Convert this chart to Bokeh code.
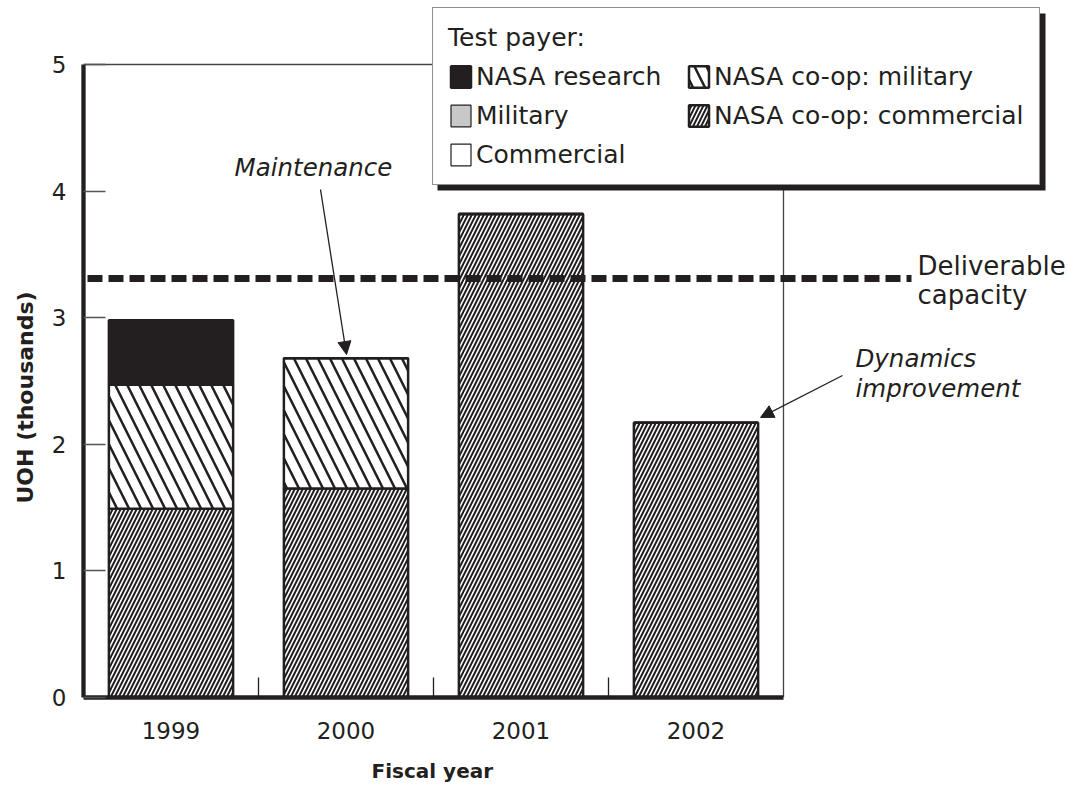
from bokeh.plotting import figure
from bokeh.models import (Range1d, FixedTicker, Legend, LegendItem, Label, Arrow,
                          NormalHead, BoxAnnotation, ColumnDataSource, Title)
from bokeh.embed import file_html
from bokeh.resources import INLINE

# ---------------- data ----------------
years = ["1999", "2000", "2001", "2002"]
coop_commercial = [1.49, 1.65, 3.82, 2.17]
coop_military = [0.98, 1.03, 0.0, 0.0]
nasa_research = [0.51, 0.0, 0.0, 0.0]
military = [0.0, 0.0, 0.0, 0.0]
commercial = [0.0, 0.0, 0.0, 0.0]
capacity = 3.31
y_ticks = [0, 1, 2, 3, 4, 5]

INK = "#231f20"
FONT = "DejaVu Sans"

# ---------------- layout helpers (canvas px -> data) ----------------
W, H = 1068, 785
LEFT_PX, BOTTOM_PX = 83, 697          # canvas position of x=-0.5 / y=0
PX_X, PX_Y = 175.0, 126.6             # pixels per unit
def dx(px):
    return -0.5 + (px - LEFT_PX) / PX_X
def dy(py):
    return (BOTTOM_PX - py) / PX_Y

p = figure(width=W, height=H, output_backend="svg", toolbar_location=None,
           x_range=Range1d(-0.5, dx(W)), y_range=Range1d(0, dy(0)),
           min_border_left=LEFT_PX, min_border_right=0, min_border_top=0,
           min_border_bottom=H - BOTTOM_PX)
p.outline_line_color = None
p.grid.visible = False
p.background_fill_color = "white"
p.border_fill_color = "white"

src = ColumnDataSource(dict(x=list(range(len(years))), cc=coop_commercial,
                            cm=coop_military, nr=nasa_research,
                            mi=military, co=commercial))
stack = ["cc", "cm", "nr", "mi", "co"]
rs = p.vbar_stack(stack, x="x", width=0.71, source=src,
                  fill_color=["white", "white", INK, "#c8c8c8", "white"],
                  hatch_pattern=["/", "\\", " ", " ", " "],
                  hatch_color=INK, hatch_weight=[2.0, 2.5, 1, 1, 1],
                  hatch_scale=[8, 24, 12, 12, 12],
                  line_color=INK, line_width=[2.5, 2.5, 2.5, 1.2, 1.2])

# frame lines (top and right)
n = len(years)
p.segment(x0=[-0.5, n - 0.5], x1=[n - 0.5, n - 0.5], y0=[y_ticks[-1], 0],
          y1=[y_ticks[-1], y_ticks[-1]], line_color="#444444", line_width=1.3)

# deliverable capacity
p.line(x=[dx(87), dx(911)], y=[capacity, capacity], line_color=INK,
       line_width=7, line_dash="15 6")

# ---------------- axes ----------------
xa = p.xaxis[0]
xa.ticker = FixedTicker(ticks=list(range(n)), minor_ticks=[i + 0.5 for i in range(n - 1)])
xa.major_label_overrides = {i: y for i, y in enumerate(years)}
xa.bounds = (-0.55, n - 0.5)
xa.axis_line_width = 4.3
xa.axis_line_color = INK
xa.major_tick_in = 0
xa.major_tick_out = 0
xa.minor_tick_in = 20
xa.minor_tick_out = 0
xa.minor_tick_line_color = INK
xa.minor_tick_line_width = 1.3
xa.major_label_text_font = FONT
xa.major_label_text_font_size = "23px"
xa.major_label_text_color = INK
xa.major_label_standoff = 24

ya = p.yaxis[0]
ya.ticker = FixedTicker(ticks=y_ticks)
ya.bounds = (0, y_ticks[-1])
ya.axis_line_width = 4.3
ya.axis_line_color = INK
ya.major_tick_in = 22
ya.major_tick_out = 0
ya.major_tick_line_color = "#555555"
ya.major_tick_line_width = 1.3
ya.minor_tick_line_color = None
ya.major_label_text_font = FONT
ya.major_label_text_font_size = "23px"
ya.major_label_text_color = INK
ya.major_label_standoff = 17

# axis titles, placed along the plotted bounds (not the wider frame)
p.add_layout(Title(text=" ", standoff=0, text_font=FONT, text_font_size="12px"),
             "below")   # spacer between tick labels and the axis title
p.add_layout(Title(text="Fiscal year", align="left", offset=371 - LEFT_PX,
                   vertical_align="middle", standoff=0, text_font=FONT,
                   text_font_size="20px", text_font_style="bold", text_color=INK),
             "below")
p.add_layout(Title(text="UOH (thousands)", align="left", offset=BOTTOM_PX - 503,
                   vertical_align="middle", standoff=20, text_font=FONT,
                   text_font_size="22px", text_font_style="bold", text_color=INK),
             "left")

# ---------------- legend ----------------
shadow = BoxAnnotation(left=dx(437), right=dx(1045), top=dy(13), bottom=dy(190),
                       fill_color=INK, fill_alpha=1.0, line_color=None)
p.add_layout(shadow)
items = [LegendItem(label="NASA research", renderers=[rs[2]]),
         LegendItem(label="Military", renderers=[rs[3]]),
         LegendItem(label="Commercial", renderers=[rs[4]]),
         LegendItem(label="NASA co-op: military", renderers=[rs[1]]),
         LegendItem(label="NASA co-op: commercial", renderers=[rs[0]])]
leg = Legend(items=items, location=(432 - LEFT_PX, BOTTOM_PX - 185), nrows=3,
             title="Test payer:", title_text_font=FONT, title_text_font_size="25px",
             title_text_font_style="normal", title_text_color=INK, title_standoff=10,
             label_text_font=FONT, label_text_font_size="25px", label_text_color=INK,
             glyph_width=25, glyph_height=27, label_standoff=3, spacing=10,
             label_width=200, padding=15, border_line_color=INK, border_line_width=1.5,
             background_fill_color="white", background_fill_alpha=1.0)
p.add_layout(leg, "center")

# ---------------- annotations ----------------
def lab(x, y, text, italic=True, align="left", size="24.5px"):
    p.add_layout(Label(x=x, y=y, text=text, text_font=FONT, text_font_size=size,
                       text_font_style="italic" if italic else "normal",
                       text_color=INK, text_align=align, text_baseline="middle"))

lab(dx(313), dy(167), "Maintenance", align="center")
lab(dx(855), dy(358), "Dynamics")
lab(dx(855), dy(388), "improvement")
lab(dx(917), dy(265), "Deliverable", italic=False, size="26px")
lab(dx(917), dy(294), "capacity", italic=False, size="26px")

head = dict(size=13, fill_color=INK, line_color=INK)
p.add_layout(Arrow(end=NormalHead(**head), x_start=dx(320), y_start=dy(189),
                   x_end=dx(346), y_end=dy(354), line_color=INK, line_width=1.3))
p.add_layout(Arrow(end=NormalHead(**head), x_start=dx(842), y_start=dy(375),
                   x_end=dx(760), y_end=dy(417), line_color=INK, line_width=1.3))

open("out.html", "w").write(file_html(p, INLINE))
